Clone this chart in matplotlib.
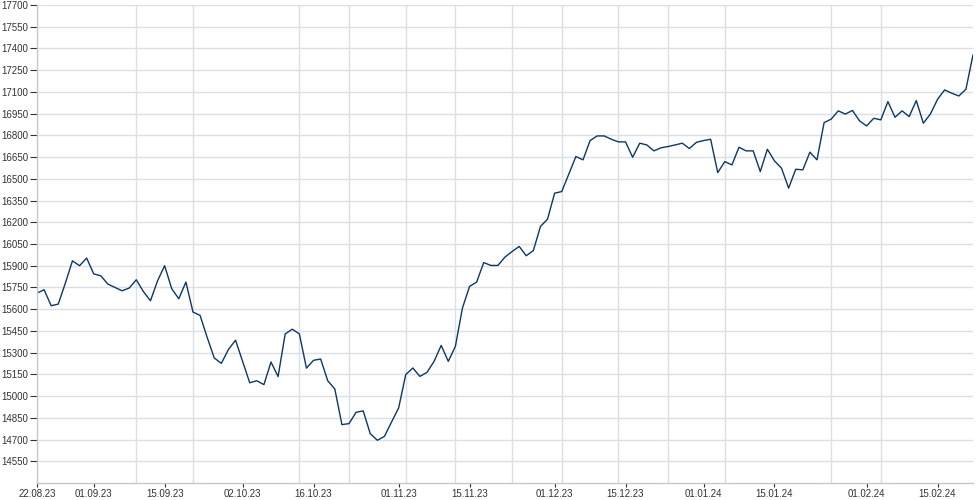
import matplotlib
matplotlib.use("Agg")
import matplotlib.pyplot as plt
import numpy as np
import pandas as pd

plt.rcParams["font.family"] = ["Liberation Sans", "DejaVu Sans"]

# Index level per weekday, 22.08.23 - 22.02.24
days = pd.bdate_range("2023-08-22", "2024-02-22")
values = [
    15711, 15734, 15624, 15635, 15780, 15934, 15900, 15953, 15844, 15830,
    15773, 15750, 15727, 15746, 15803, 15722, 15658, 15796, 15900, 15741,
    15672, 15787, 15580, 15557, 15405, 15263, 15226, 15322, 15386, 15240,
    15092, 15106, 15079, 15235, 15135, 15429, 15462, 15429, 15193, 15247,
    15256, 15106, 15049, 14803, 14810, 14888, 14898, 14740, 14695, 14722,
    14821, 14918, 15148, 15194, 15136, 15164, 15240, 15350, 15240, 15343,
    15608, 15757, 15787, 15922, 15902, 15902, 15960, 15998, 16033, 15969,
    16005, 16171, 16222, 16401, 16412, 16532, 16654, 16631, 16764, 16796,
    16796, 16773, 16755, 16755, 16649, 16746, 16734, 16693, 16714, 16723,
    16734, 16746, 16709, 16752, 16764, 16773, 16543, 16619, 16596, 16718,
    16693, 16693, 16550, 16704, 16624, 16573, 16436, 16566, 16562, 16684,
    16631, 16888, 16912, 16969, 16947, 16972, 16900, 16865, 16918, 16907,
    17033, 16925, 16969, 16930, 17040, 16884, 16948, 17049, 17114, 17091,
    17072, 17118, 17355,
]
tick_dates = ["2023-08-22", "2023-09-01", "2023-09-15", "2023-10-02", "2023-10-16",
              "2023-11-01", "2023-11-15", "2023-12-01", "2023-12-15", "2024-01-01",
              "2024-01-15", "2024-02-01", "2024-02-15"]
# vertical grid lines (weekday index)
grid_idx = [0, 8, 14, 22, 29, 37, 44, 52, 59, 67, 74, 82, 89, 97, 104, 112, 119, 127]

x = np.arange(len(days))
tick_pos = [days.get_loc(pd.Timestamp(d)) for d in tick_dates]
tick_labels = [pd.Timestamp(d).strftime("%d.%m.%y") for d in tick_dates]

fig = plt.figure(figsize=(9.8, 5.0), dpi=100)
ax = fig.add_axes([37 / 980, 17 / 500, 936 / 980, 478 / 500])

ax.plot(x, values, color="#0d3866", lw=1.0)

ax.set_xlim(0, len(days) - 1)
ax.set_ylim(14400, 17700)
ax.set_yticks(np.arange(14550, 17701, 150))
ax.set_xticks(tick_pos)
ax.set_xticklabels(tick_labels)
ax.set_xticks(grid_idx, minor=True)

gridcol = "#dcdfe5"
ax.grid(axis="y", which="major", color=gridcol, lw=1.0)
ax.grid(axis="x", which="minor", color=gridcol, lw=1.0)
ax.grid(axis="x", which="major", visible=False)
ax.set_axisbelow(True)

for s in ["top", "right"]:
    ax.spines[s].set_visible(False)
for s in ["left", "bottom"]:
    ax.spines[s].set_color("#c3c7ce")
    ax.spines[s].set_linewidth(1.0)

ax.tick_params(axis="y", length=5, width=0.8, color="#333333", labelsize=7,
               labelcolor="#333333", pad=1.5)
ax.tick_params(axis="x", which="major", length=3, width=0.8, color="#333333",
               labelsize=7, labelcolor="#333333", pad=1.5)
ax.tick_params(axis="x", which="minor", length=0)

fig.savefig("out.png", dpi=100)
